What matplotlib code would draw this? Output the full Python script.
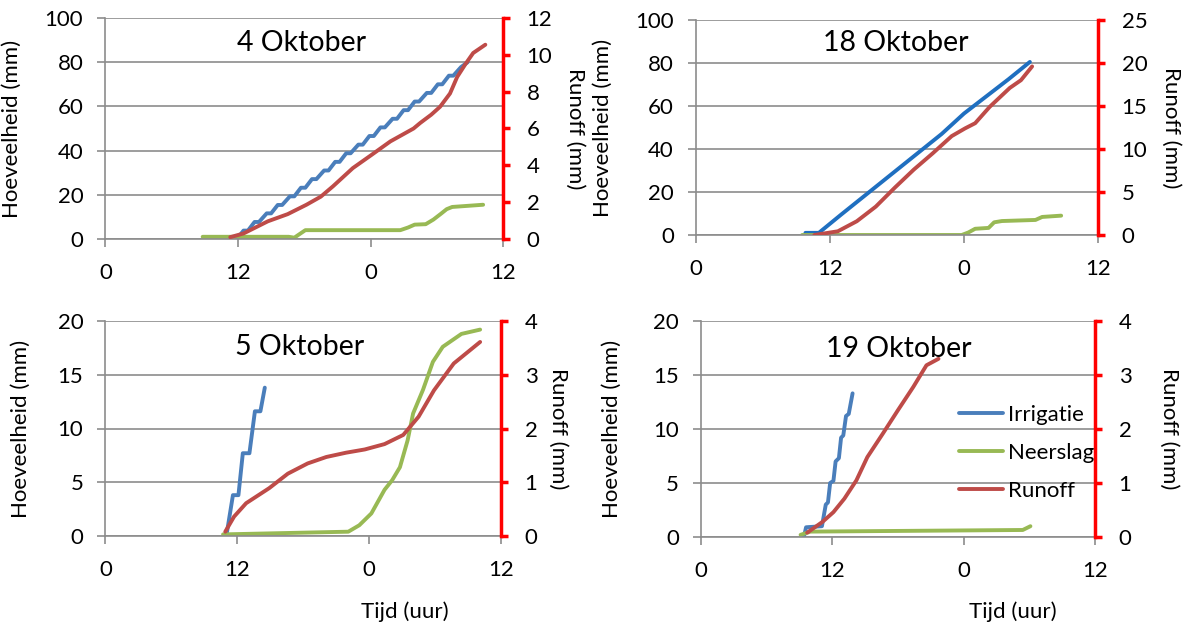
import matplotlib
matplotlib.use("Agg")
import matplotlib.pyplot as plt

plt.rcParams["font.family"] = ["Lato", "DejaVu Sans"]

W, H = 1186, 623

# tijd in uren vanaf middernacht van de eerste dag (0..36)
irr1_t = [11.9, 12.5, 12.9, 13.5, 13.9, 14.6, 15.0, 15.6, 16.0, 16.7, 17.1, 17.7, 18.1, 18.7,
          19.1, 19.8, 20.2, 20.8, 21.2, 21.8, 22.2, 22.9, 23.3, 23.9, 24.3, 24.9, 25.3, 26.0,
          26.4, 27.0, 27.4, 28.0, 28.4, 29.1, 29.5, 30.1, 30.5, 31.1, 31.5, 32.2, 32.8]
irr1_v = [0.0, 3.8, 3.8, 7.7, 7.7, 11.6, 11.6, 15.4, 15.4, 19.3, 19.3, 23.2, 23.2, 27.1,
          27.1, 31.0, 31.0, 34.9, 34.9, 38.8, 38.8, 42.7, 42.7, 46.6, 46.6, 50.5, 50.5, 54.4,
          54.4, 58.3, 58.3, 62.2, 62.2, 66.1, 66.1, 70.0, 70.0, 73.9, 73.9, 77.8, 80.0]
neer1_t = [8.8, 16.6, 17.1, 18.1, 26.7, 27.4, 28.0, 29.0, 29.7, 30.4, 30.9, 31.4, 34.2]
neer1_v = [1.0, 1.0, 0.6, 4.0, 4.0, 5.2, 6.5, 6.7, 8.8, 11.5, 13.5, 14.5, 15.5]
run1_t = [11.3, 12.5, 14.7, 16.5, 18.2, 19.5, 20.6, 22.4, 24.1, 25.8, 27.9, 28.5, 29.5,
          30.3, 31.2, 31.85, 32.6, 33.3, 34.4]
run1_v = [0.1, 0.3, 0.96, 1.35, 1.86, 2.3, 2.86, 3.85, 4.57, 5.3, 6.0, 6.3, 6.75,
          7.18, 7.9, 8.8, 9.5, 10.1, 10.55]

irr2_t = [9.8, 11.0, 13.0, 16.0, 19.0, 22.0, 24.0, 26.0, 28.0, 29.9]
irr2_v = [1.0, 1.0, 9.5, 22.0, 34.5, 47.0, 56.5, 64.5, 72.5, 80.5]
neer2_t = [9.5, 23.8, 24.4, 25.0, 26.2, 26.7, 27.4, 30.4, 31.0, 32.7]
neer2_v = [0.0, 0.0, 1.2, 2.9, 3.3, 5.9, 6.5, 7.0, 8.4, 9.0]
run2_t = [10.6, 12.7, 14.4, 16.1, 17.8, 19.5, 21.2, 22.9, 24.1, 25.0, 26.3, 28.1, 29.1, 30.1]
run2_v = [0.0, 0.43, 1.6, 3.3, 5.5, 7.6, 9.5, 11.5, 12.4, 13.0, 14.9, 17.1, 18.0, 19.6]

irr3_t = [11.0, 11.6, 12.1, 12.5, 13.1, 13.6, 14.1, 14.5]
irr3_v = [0.0, 3.8, 3.8, 7.7, 7.7, 11.6, 11.6, 13.8]
neer3_t = [10.7, 22.1, 23.1, 24.2, 25.4, 26.1, 26.8, 27.5, 28.0, 28.9, 29.8, 30.7, 32.4, 34.1]
neer3_v = [0.15, 0.4, 1.0, 2.1, 4.3, 5.2, 6.4, 8.9, 11.4, 13.6, 16.2, 17.6, 18.8, 19.2]
run3_t = [10.9, 11.7, 12.8, 14.9, 16.6, 18.4, 20.1, 21.9, 23.6, 25.4, 27.1, 28.5, 29.9, 31.7, 34.1]
run3_v = [0.08, 0.36, 0.61, 0.89, 1.16, 1.35, 1.47, 1.55, 1.61, 1.71, 1.88, 2.22, 2.71, 3.21, 3.61]

irr4_t = [9.4, 9.6, 11.05, 11.4, 11.6, 11.8, 12.1, 12.3, 12.6, 12.8, 13.0, 13.25, 13.5, 13.85]
irr4_v = [0.0, 0.9, 1.0, 3.0, 3.2, 5.0, 5.2, 7.0, 7.3, 9.2, 9.4, 11.2, 11.4, 13.3]
neer4_t = [9.1, 10.0, 29.4, 30.1]
neer4_v = [0.2, 0.5, 0.65, 1.0]
run4_t = [9.7, 11.1, 12.1, 13.1, 14.2, 15.2, 16.6, 18.0, 19.4, 20.6, 21.7]
run4_v = [0.08, 0.28, 0.46, 0.71, 1.05, 1.48, 1.91, 2.35, 2.78, 3.18, 3.30]

x_ticks = [0, 12, 24, 36]
x_ticklabels = ["0", "12", "0", "12"]

_BLUE = "#4A7EBB"
_BLUE_DARK = "#1F6FC0"
_GREEN = "#98B954"
_RED = "#BE4B48"
_GRID = "#8C8C8C"


def px_rect(left, top, right, bottom):
    return [left / W, 1 - bottom / H, (right - left) / W, (bottom - top) / H]


def panel(fig, rect, title, title_xy, irr, neer, run, left_max, left_step, right_max,
          right_step, ylab_x, rlab_x, blue=_BLUE, xlabel=None, xlabel_xy=None):
    ax = fig.add_axes(px_rect(*rect))
    ax2 = ax.twinx()

    line_kw = dict(lw=2.8, solid_joinstyle="round", solid_capstyle="round")
    ax.plot(irr[0], irr[1], color=blue, label="Irrigatie", **line_kw)
    ax.plot(neer[0], neer[1], color=_GREEN, label="Neerslag", **line_kw)
    ax2.plot(run[0], run[1], color=_RED, label="Runoff", **line_kw)

    ax.set_xlim(0, 36)
    ax.set_ylim(0, left_max)
    ax2.set_ylim(0, right_max)
    ax.set_xticks(x_ticks)
    ax.set_xticklabels(x_ticklabels)
    ax.set_yticks(range(0, left_max + 1, left_step))
    ax2.set_yticks(range(0, right_max + 1, right_step))

    ax.set_axisbelow(True)
    ax.yaxis.grid(True, color=_GRID, lw=1.2)
    for s in ("top", "right"):
        ax.spines[s].set_visible(False)
    for s in ("top", "left", "bottom"):
        ax2.spines[s].set_visible(False)
    for s in ("left", "bottom"):
        ax.spines[s].set_color(_GRID)
        ax.spines[s].set_linewidth(1.2)
    ax2.spines["right"].set_color("red")
    ax2.spines["right"].set_linewidth(2.5)

    ax.tick_params(axis="y", colors=_GRID, length=6, width=1.2, pad=10,
                   labelsize=16, labelcolor="black")
    ax.tick_params(axis="x", colors=_GRID, length=6, width=1.2, pad=11,
                   labelsize=16, labelcolor="black")
    ax2.tick_params(axis="y", colors="red", direction="out", length=5, width=2.5,
                    pad=12, labelsize=16, labelcolor="black")

    ax.set_ylabel("Hoeveelheid (mm)", fontsize=16)
    ax.yaxis.set_label_coords((ylab_x - rect[0]) / (rect[2] - rect[0]), 0.5)
    ax2.set_ylabel("Runoff (mm)", fontsize=16, rotation=270, va="center")
    ax2.yaxis.set_label_coords((rlab_x - rect[0]) / (rect[2] - rect[0]), 0.5)

    fig.text(title_xy[0] / W, 1 - title_xy[1] / H, title, fontsize=20.5,
             ha="center", va="center")
    if xlabel:
        fig.text(xlabel_xy[0] / W, 1 - xlabel_xy[1] / H, xlabel, fontsize=16,
                 ha="center", va="center")
    return ax, ax2


fig = plt.figure(figsize=(W / 100, H / 100), dpi=100)

panel(fig, (105.5, 18, 503, 239), "4 Oktober", (302, 43),
      (irr1_t, irr1_v), (neer1_t, neer1_v), (run1_t, run1_v),
      100, 20, 12, 2, 22, 575)
panel(fig, (696, 20, 1098, 235), "18 Oktober", (896, 43),
      (irr2_t, irr2_v), (neer2_t, neer2_v), (run2_t, run2_v),
      100, 20, 25, 5, 613, 1171, blue=_BLUE_DARK)
panel(fig, (105.5, 321, 501, 536), "5 Oktober", (300, 347),
      (irr3_t, irr3_v), (neer3_t, neer3_v), (run3_t, run3_v),
      20, 5, 4, 1, 31, 558, xlabel="Tijd (uur)", xlabel_xy=(405, 612))
ax4, ax4r = panel(fig, (701, 321, 1095, 537), "19 Oktober", (899, 349),
                  (irr4_t, irr4_v), (neer4_t, neer4_v), (run4_t, run4_v),
                  20, 5, 4, 1, 622, 1169, xlabel="Tijd (uur)", xlabel_xy=(1013, 612))

handles = ax4.get_lines() + ax4r.get_lines()
fig.legend(handles, [h.get_label() for h in handles], loc="center left",
           bbox_to_anchor=(959 / W, 1 - 453 / H), frameon=False, fontsize=16,
           handlelength=2.0, handletextpad=0.2, labelspacing=0.8,
           borderpad=0, borderaxespad=0)

fig.savefig("out.png", dpi=100, facecolor="white")
plt.close(fig)
